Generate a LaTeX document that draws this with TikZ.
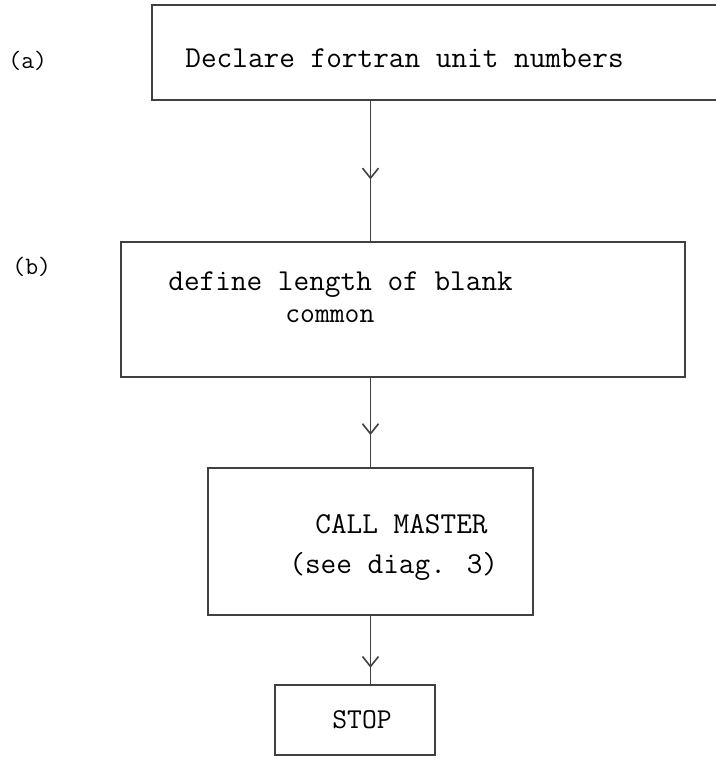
\documentclass[tikz,border=0pt]{standalone}
\usepackage{fontspec}
\usepackage{tikz}
\usetikzlibrary{arrows.meta}
\usetikzlibrary{decorations.markings}

\begin{document}
\begin{tikzpicture}[x=0.5pt,y=-0.5pt
                   ,box/.style={draw=black!75,line width=0.8pt,inner sep=0pt}
                   ,txt/.style={anchor=base west,inner sep=0pt
                               ,font=\ttfamily\fontsize{15.2}{17.5}\selectfont}
                   ,small/.style={anchor=base west,inner sep=0pt
                               ,font=\ttfamily\fontsize{14.4}{16.5}\selectfont}
                   ,tag/.style={anchor=base west,inner sep=0pt
                               ,font=\ttfamily\fontsize{12.5}{15}\selectfont}
                   ,flow/.style={draw=black!75,line width=0.8pt,postaction={decorate}
                               ,decoration={markings,mark=at position #1 with
                                 {\arrow{Straight Barb[length=5pt,width=8pt]}}}}
                   ,flow/.default=0.6]
  \useasboundingbox (0,0) rectangle (716,757);
  % boxes
  \node[box,minimum width=285pt,minimum height=47.5pt] (decl) at (437,52.5) {};
  \node[box,minimum width=282pt,minimum height=67.5pt] (blank) at (403,309.5) {};
  \node[box,minimum width=162.5pt,minimum height=73.5pt] (master) at (370.5,541.5) {};
  \node[box,minimum width=80pt,minimum height=35pt] (stop) at (355,720) {};
  % labels
  \node[tag] (taga) at (8,68) {(a)};
  \node[tag] (tagb) at (12,274) {(b)};
  \node[txt] (decltxt) at (185,67) {Declare fortran unit numbers};
  \node[txt] (blanktxt) at (168,290) {define length of blank};
  \node[small] (commontxt) at (285,322) {common};
  \node[txt] (mastertxt) at (315,533) {CALL MASTER};
  \node[txt] (seetxt) at (289,573) {(see diag. 3)};
  \node[small] (stoptxt) at (332,728) {STOP};
  % connectors
  \draw[flow=0.56] (decl.south -| master.north) -- (blank.north -| master.north);
  \draw[flow=0.64] (blank.south -| master.north) -- (master.north);
  \draw[flow=0.76] (master.south) -- (master.south |- stop.north);
\end{tikzpicture}
\end{document}
